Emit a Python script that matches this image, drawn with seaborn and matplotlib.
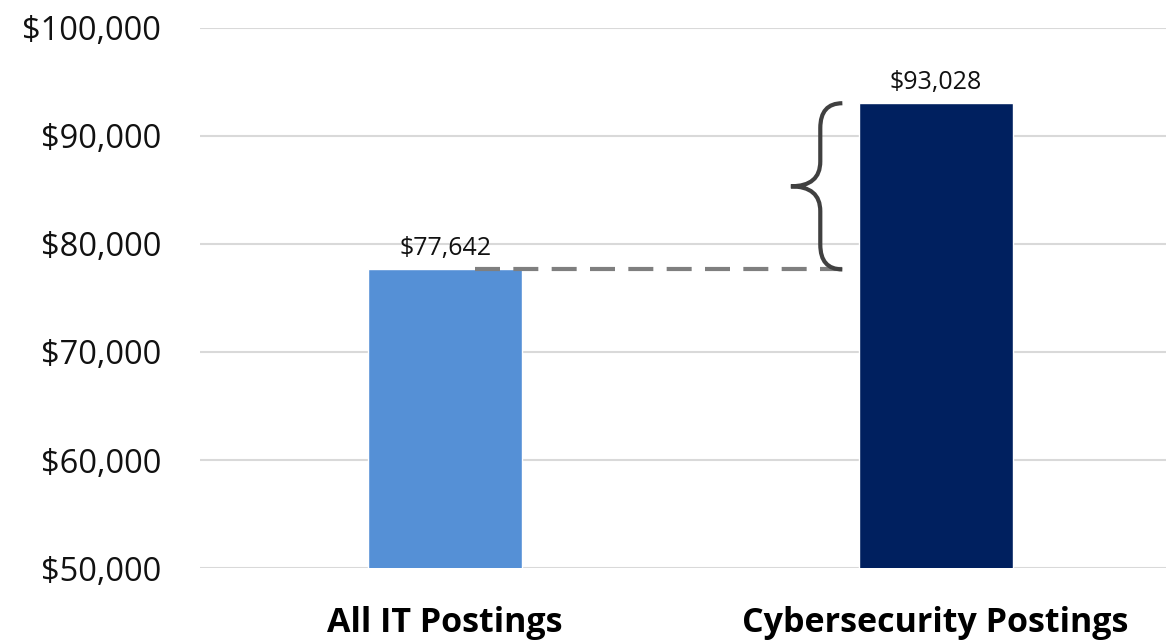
import matplotlib
matplotlib.use('Agg')
import matplotlib.pyplot as plt
import seaborn as sns
import pandas as pd
from matplotlib.path import Path
from matplotlib.patches import PathPatch

categories = ['All IT Postings', 'Cybersecurity Postings']
salaries = [77642, 93028]
bar_colors = ['#5590d6', '#00205f']
y_ticks = [50000, 60000, 70000, 80000, 90000, 100000]


def main():
    sns.set_theme(style='white')
    plt.rcParams['font.family'] = ['Open Sans', 'DejaVu Sans']

    data = pd.DataFrame({'category': categories, 'salary': salaries})

    fig = plt.figure(figsize=(11.66, 6.43), dpi=100)
    ax = fig.add_axes([0.1715, 0.1166, 0.8285, 0.84])

    sns.barplot(data=data, x='category', y='salary', hue='category',
                palette=bar_colors, legend=False, width=0.314,
                saturation=1, ax=ax)

    ax.set_ylim(50000, 100000)
    ax.set_xlim(-0.5, 1.47)
    ax.set_yticks(y_ticks)
    ax.set_yticklabels([f'${v:,.0f}' for v in y_ticks], fontsize=23.5, color='#111111')
    ax.set_xticks(range(len(categories)))
    ax.set_xticklabels(categories, fontsize=24.5, fontweight='bold', color='black')
    ax.tick_params(axis='y', length=0, pad=28)
    ax.tick_params(axis='x', length=0, pad=27)
    ax.set_xlabel('')
    ax.set_ylabel('')
    for s in ax.spines.values():
        s.set_visible(False)
    ax.yaxis.grid(True, color='#d9d9d9', linewidth=1.5)
    ax.set_axisbelow(True)

    for cont in ax.containers:
        ax.bar_label(cont, fmt='${:,.0f}', fontsize=18, padding=6, color='#111111')

    low, high = salaries
    # dashed reference line from the first bar to the brace
    ax.plot([0.06, 0.81], [low, low], color='#7f7f7f', lw=3,
            linestyle=(0, (6, 3.2)), zorder=3)

    # curly brace showing the gap
    xe, xm, xt = 0.81, 0.765, 0.705
    mid = (low + high) / 2
    d = 2300
    verts = [(xe, high), (xm, high), (xm, high - d),
             (xm, mid + d), (xm, mid), (xt, mid),
             (xm, mid), (xm, mid - d),
             (xm, low + d), (xm, low), (xe, low)]
    codes = [Path.MOVETO, Path.CURVE3, Path.CURVE3,
             Path.LINETO, Path.CURVE3, Path.CURVE3,
             Path.CURVE3, Path.CURVE3,
             Path.LINETO, Path.CURVE3, Path.CURVE3]
    ax.add_patch(PathPatch(Path(verts, codes), facecolor='none',
                           edgecolor='#404040', lw=3, capstyle='butt', zorder=3))

    fig.savefig('out.png', dpi=100)


if __name__ == '__main__':
    main()
